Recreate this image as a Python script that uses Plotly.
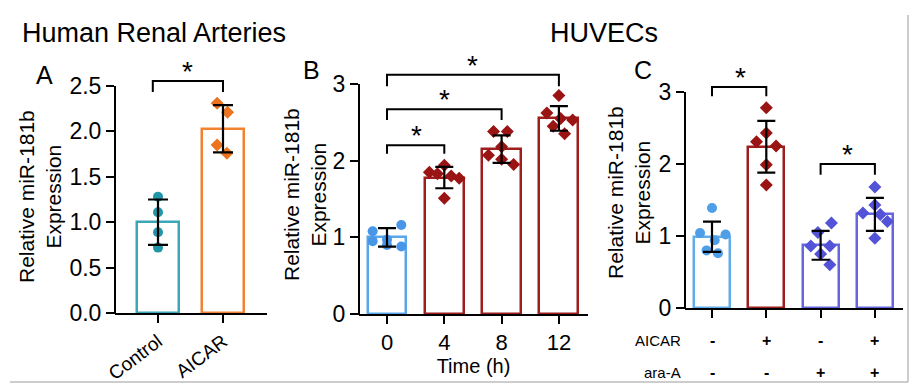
import plotly.graph_objects as go

FONT = "Liberation Sans, Arial, Helvetica, sans-serif"
W, H = 918, 390

# ---------------- Panel A : Human renal arteries ----------------
a_groups = ["Control", "AICAR"]
a_means = [1.00, 2.03]
a_sd = [0.25, 0.26]
a_points = [[1.28, 1.11, 0.89, 0.72], [2.31, 2.21, 1.85, 1.76]]
a_jitter = [[0, 0, 0, 0], [-0.09, 0.07, -0.09, 0.06]]
a_bar_colors = ["#3aa6b6", "#f08232"]
a_dot_colors = ["#1f97a8", "#ec731f"]
a_symbols = ["circle", "diamond"]
a_yticks = [0.0, 0.5, 1.0, 1.5, 2.0, 2.5]
a_yticktext = ["0.0", "0.5", "1.0", "1.5", "2.0", "2.5"]

# ---------------- Panel B : HUVECs time course ----------------
b_times = ["0", "4", "8", "12"]
b_means = [1.00, 1.78, 2.15, 2.55]
b_sd = [0.12, 0.14, 0.18, 0.16]
b_points = [
    [1.08, 1.16, 0.95, 0.97, 0.90, 0.88],
    [1.85, 1.94, 1.80, 1.77, 1.51, 1.83],
    [2.38, 2.38, 2.07, 2.18, 1.95, 2.02],
    [2.85, 2.62, 2.53, 2.55, 2.45, 2.35],
]
b_jitter = [
    [-0.25, 0.25, -0.25, 0.0, 0.0, 0.25],
    [-0.26, 0.0, 0.12, 0.26, 0.0, -0.12],
    [-0.14, 0.10, -0.23, 0.0, 0.21, 0.0],
    [0.0, -0.21, 0.24, 0.03, -0.10, 0.10],
]
b_bar_colors = ["#5aa6ea", "#9e1d1d", "#9e1d1d", "#9e1d1d"]
b_dot_colors = ["#4796e8", "#9a1414", "#9a1414", "#9a1414"]
b_symbols = ["circle", "diamond", "diamond", "diamond"]
b_yticks = [0, 1, 2, 3]

# ---------------- Panel C : AICAR / ara-A ----------------
c_aicar = ["-", "+", "-", "+"]
c_araA = ["-", "-", "+", "+"]
c_means = [0.99, 2.24, 0.87, 1.30]
c_sd = [0.21, 0.36, 0.20, 0.23]
c_points = [
    [1.39, 1.04, 1.02, 0.94, 0.80, 0.76],
    [2.78, 2.43, 2.31, 2.25, 1.99, 1.71],
    [1.18, 1.05, 0.86, 0.86, 0.75, 0.60],
    [1.68, 1.43, 1.32, 1.30, 1.20, 0.97],
]
c_jitter = [
    [0.0, -0.22, 0.25, 0.05, -0.10, 0.11],
    [0.0, 0.0, -0.18, 0.18, 0.0, 0.0],
    [0.20, -0.05, -0.18, 0.17, 0.0, 0.17],
    [0.0, 0.0, -0.22, 0.10, 0.23, 0.0],
]
c_bar_colors = ["#62aeea", "#9e1d1d", "#6565de", "#6565de"]
c_dot_colors = ["#4f9fe8", "#9a1414", "#5353d8", "#5353d8"]
c_symbols = ["circle", "diamond", "diamond", "diamond"]
c_yticks = [0, 1, 2, 3]

# significance brackets: (x_left, x_right, y_top, leg_bottom_left, leg_bottom_right, star_x, star_y)
a_brackets = [(-0.08, 1.0, 2.555, 2.434, 2.434, 0.46, 2.555)]
b_brackets = [
    (0, 1, 2.20, 2.09, 2.09, 0.52, 2.20),
    (0, 2, 2.67, 2.53, 2.53, 1.00, 2.67),
    (0, 3, 3.12, 2.97, 2.97, 1.50, 3.12),
]
c_brackets = [
    (0, 1, 3.07, 2.94, 2.94, 0.52, 3.07),
    (2, 3, 2.00, 1.85, 1.85, 2.50, 2.00),
]


def px_x(v):
    return v / W


def px_y(v):
    return 1 - v / H


fig = go.Figure()


def add_panel(xa, ya, means, sds, points, jitter, bar_colors, dot_colors, symbols,
              bar_width, cap, brackets):
    xs = list(range(len(means)))
    fig.add_trace(go.Bar(
        x=xs, y=means, width=bar_width, xaxis=xa, yaxis=ya,
        marker=dict(color="white", line=dict(color=bar_colors, width=2.5)),
        showlegend=False, hoverinfo="skip"))
    for i, vals in enumerate(points):
        fig.add_trace(go.Scatter(
            x=[i + j for j in jitter[i]], y=vals, mode="markers", xaxis=xa, yaxis=ya,
            marker=dict(color=dot_colors[i], symbol=symbols[i], size=10,
                        line=dict(width=0)),
            showlegend=False, hoverinfo="skip", cliponaxis=False))
    fig.add_trace(go.Scatter(
        x=xs, y=means, mode="markers", xaxis=xa, yaxis=ya,
        marker=dict(size=1, color="rgba(0,0,0,0)"),
        error_y=dict(type="data", array=sds, visible=True, color="black",
                     thickness=2.2, width=cap),
        showlegend=False, hoverinfo="skip"))
    for (xl, xr, yt, bl, br, sx, sy) in brackets:
        fig.add_trace(go.Scatter(
            x=[xl, xl, xr, xr], y=[bl, yt, yt, br], mode="lines", xaxis=xa, yaxis=ya,
            line=dict(color="black", width=2), showlegend=False, hoverinfo="skip"))
        fig.add_annotation(x=sx, y=sy, xref=xa, yref=ya, text="*", showarrow=False,
                           yanchor="bottom", yshift=-8,
                           font=dict(size=28, color="black", family=FONT))


add_panel("x", "y", a_means, a_sd, a_points, a_jitter, a_bar_colors, a_dot_colors,
          a_symbols, 0.66, 10, a_brackets)
add_panel("x2", "y2", b_means, b_sd, b_points, b_jitter, b_bar_colors, b_dot_colors,
          b_symbols, 0.68, 9, b_brackets)
add_panel("x3", "y3", c_means, c_sd, c_points, c_jitter, c_bar_colors, c_dot_colors,
          c_symbols, 0.66, 9, c_brackets)

tickfont = dict(size=23, color="black", family=FONT)
common_x = dict(showline=True, linecolor="black", linewidth=2, ticks="outside",
                ticklen=8, tickwidth=2, tickcolor="black", showgrid=False,
                zeroline=False, tickfont=tickfont, fixedrange=True)
common_y = dict(showline=False, ticks="outside", ticklen=8, tickwidth=2,
                tickcolor="black", showgrid=False, zeroline=False, tickfont=tickfont,
                fixedrange=True)

# pixel geometry for each panel
A_geo = dict(left=115, right=267, y0=313, ppu=90.8, top=55, c0=158, step=65, ymax=2.5)
B_geo = dict(left=359, right=588, y0=314, ppu=76.67, top=48, c0=387, step=57.3, ymax=3)
C_geo = dict(left=685, right=903, y0=308, ppu=72.0, top=55, c0=712, step=54.3, ymax=3)

layout_axes = {}
shapes = []
for suffix, geo, yt, ytt in [("", A_geo, a_yticks, a_yticktext),
                             ("2", B_geo, b_yticks, [str(v) for v in b_yticks]),
                             ("3", C_geo, c_yticks, [str(v) for v in c_yticks])]:
    xr = [(geo["left"] - geo["c0"]) / geo["step"], (geo["right"] - geo["c0"]) / geo["step"]]
    yr = [0, (geo["y0"] - geo["top"]) / geo["ppu"]]
    layout_axes["xaxis" + suffix] = dict(common_x, domain=[px_x(geo["left"]), px_x(geo["right"])],
                                         range=xr, anchor="y" + suffix)
    layout_axes["yaxis" + suffix] = dict(common_y, domain=[px_y(geo["y0"]), px_y(geo["top"])],
                                         range=yr, anchor="x" + suffix, tickvals=yt, ticktext=ytt)
    shapes.append(dict(type="line", xref="paper", yref="paper",
                       x0=px_x(geo["left"]), x1=px_x(geo["left"]),
                       y0=px_y(geo["y0"] + 1), y1=px_y(geo["y0"] - geo["ymax"] * geo["ppu"]),
                       line=dict(color="black", width=2)))

layout_axes["xaxis"].update(tickvals=[0, 1], ticktext=a_groups, tickangle=-37,
                            tickfont=dict(size=19, color="black", family=FONT))
layout_axes["xaxis2"].update(tickvals=[0, 1, 2, 3], ticktext=b_times,
                             tickfont=dict(size=22, color="black", family=FONT),
                             title=dict(text="Time (h)", standoff=2,
                                        font=dict(size=20, color="black", family=FONT)))
layout_axes["xaxis3"].update(tickvals=[0, 1, 2, 3], showticklabels=False)

# frame lines
shapes.append(dict(type="line", xref="paper", yref="paper", x0=px_x(10), x1=px_x(908),
                   y0=px_y(382), y1=px_y(382), line=dict(color="#bdbdbd", width=1.5)))
shapes.append(dict(type="line", xref="paper", yref="paper", x0=px_x(908), x1=px_x(908),
                   y0=px_y(15), y1=px_y(382), line=dict(color="#bdbdbd", width=1.5)))

annotations = []


def ann(text, x, y, size, angle=0):
    annotations.append(dict(text=text, x=px_x(x), y=px_y(y), xref="paper", yref="paper",
                            showarrow=False, textangle=angle, xanchor="center",
                            yanchor="middle",
                            font=dict(size=size, color="black", family=FONT)))


ann("Human Renal Arteries", 154, 33, 27)
ann("HUVECs", 604, 33, 27)
ann("A", 44, 75, 25)
ann("B", 311, 70, 25)
ann("C", 643, 70, 25)
ann("Relative miR-181b<br>Expression", 40, 197, 21, angle=-90)
ann("Relative miR-181b<br>Expression", 305, 195, 21, angle=-90)
ann("Relative miR-181b<br>Expression", 629, 193, 21, angle=-90)
ann("AICAR", 658, 340, 15)
ann("ara-A", 662, 372, 15)
for i, s in enumerate(c_aicar):
    annotations.append(dict(text="<b>" + s + "</b>", x=i, y=px_y(340), xref="x3", yref="paper",
                            xanchor="center", yanchor="middle", showarrow=False,
                            font=dict(size=16, color="black", family=FONT)))
for i, s in enumerate(c_araA):
    annotations.append(dict(text="<b>" + s + "</b>", x=i, y=px_y(372), xref="x3", yref="paper",
                            xanchor="center", yanchor="middle", showarrow=False,
                            font=dict(size=16, color="black", family=FONT)))

fig.update_layout(
    width=W, height=H, margin=dict(l=0, r=0, t=0, b=0, autoexpand=False),
    paper_bgcolor="white", plot_bgcolor="white",
    font=dict(family=FONT, color="black"),
    bargap=0, showlegend=False,
    shapes=shapes,
    **layout_axes,
)
for a in annotations:
    fig.add_annotation(**a)

fig.write_html("out.html", config={"displayModeBar": False},
               post_script="document.body.style.margin='0';document.body.style.padding='0';")
